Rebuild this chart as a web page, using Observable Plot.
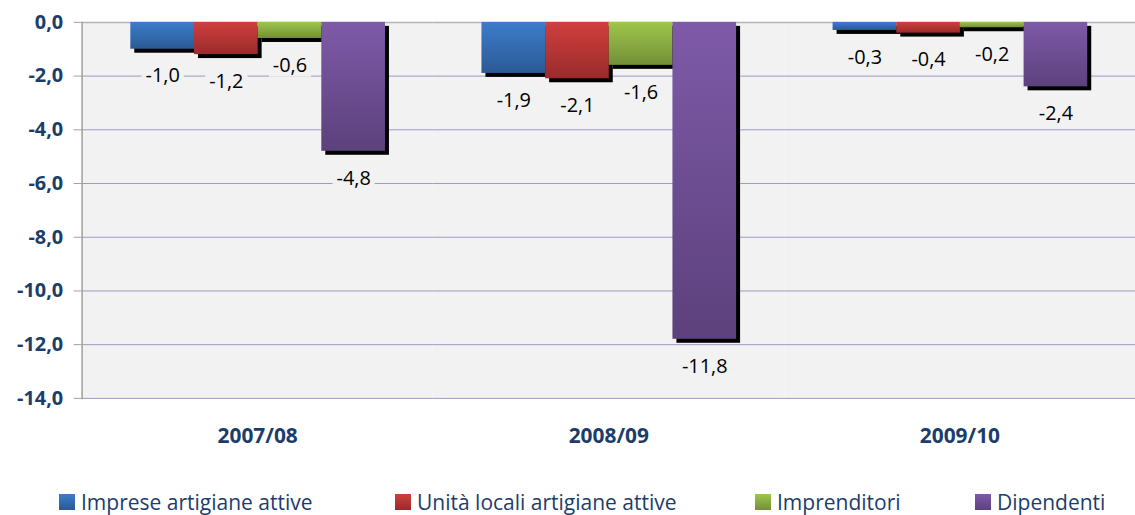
<!DOCTYPE html>
<html><head><meta charset="utf-8">
<script src="https://cdn.jsdelivr.net/npm/d3@7"></script>
<script src="https://cdn.jsdelivr.net/npm/@observablehq/plot@0.6"></script>
<style>
html,body{margin:0;padding:0;background:#fff;}
body{width:1135px;height:515px;overflow:hidden;font-family:"Open Sans",sans-serif;}
#chart svg{display:block;overflow:visible}
.legend{position:relative;height:45px;}
.item{position:absolute;top:23px;height:22px;line-height:22px;display:flex;align-items:center;font-size:21px;color:#1c3d6a;white-space:nowrap;}
.sw{width:16px;height:16px;margin-right:6px;flex:none}
.item:nth-child(1){left:59px}
.item:nth-child(2){left:395px}
.item:nth-child(3){left:755px}
.item:nth-child(4){left:975px}
</style>
</head><body>
<div id="chart"></div>
<div class="legend" id="legend"></div>
<script>
const years = ["2007/08", "2008/09", "2009/10"];
const series = ["Imprese artigiane attive", "Unità locali artigiane attive", "Imprenditori", "Dipendenti"];
const imprese = [-1.0, -1.9, -0.3];
const unita = [-1.2, -2.1, -0.4];
const imprenditori = [-0.6, -1.6, -0.2];
const dipendenti = [-4.8, -11.8, -2.4];
const yTicks = [0, -2, -4, -6, -8, -10, -12, -14];

const gradTop = ["#3d7ccb", "#d03f3d", "#9ec64c", "#7e5aa8"];
const gradBottom = ["#2b5a94", "#982c2b", "#738f38", "#5c417c"];

const valuesBySeries = [imprese, unita, imprenditori, dipendenti];
const data = [];
years.forEach((yr, i) => series.forEach((s, j) => data.push({year: yr, series: s, value: valuesBySeries[j][i]})));

const fmt = v => v.toFixed(1).replace(".", ",");
const gradIds = series.map((s, j) => `grad${j}`);

const chart = Plot.plot({
  width: 1141,
  height: 470,
  marginLeft: 81,
  marginRight: 0,
  marginTop: 22,
  marginBottom: 70,
  style: {fontFamily: "'Open Sans', sans-serif", color: "#1c3d6a", background: "transparent"},
  fx: {domain: years, padding: 0, label: null},
  x: {domain: series, paddingInner: 0, paddingOuter: 0.736, axis: null},
  y: {domain: [-14, 0], label: null},
  color: {domain: series, range: gradIds.map(id => `url(#${id})`), legend: false},
  marks: [
    Plot.frame({fill: "#f2f2f2", stroke: "none"}),
    Plot.gridY(yTicks.filter(t => t < 0), {stroke: "#9c98c4", strokeOpacity: 1, strokeWidth: 1}),
    Plot.ruleY([0], {stroke: "#b4b4b4", strokeWidth: 1.5}),
    Plot.frame({anchor: "left", stroke: "#a0a0a0", strokeWidth: 1.5, facetAnchor: "left"}),
    Plot.barY(data, {fx: "year", x: "series", y: "value", fill: "black", dx: 4, dy: 4}),
    Plot.barY(data, {fx: "year", x: "series", y: "value", fill: "series"}),
    Plot.text(data, {fx: "year", x: "series", y: "value", text: d => fmt(d.value), dy: 27, fill: "#000", fontSize: 20, className: "vlabel"}),
    Plot.axisY({ticks: yTicks, tickFormat: fmt, tickSize: 8, tickPadding: 11, fontSize: 20, fontWeight: "bold", stroke: "#a0a0a0", fill: "#1c3d6a", label: null}),
    Plot.axisFx({anchor: "bottom", tickSize: 0, tickPadding: 30, fontSize: 21, fontWeight: "bold", fill: "#1c3d6a", label: null})
  ]
});

// gradient definitions
const ns = "http://www.w3.org/2000/svg";
const defs = document.createElementNS(ns, "defs");
gradIds.forEach((id, j) => {
  const lg = document.createElementNS(ns, "linearGradient");
  lg.setAttribute("id", id);
  lg.setAttribute("x1", "0"); lg.setAttribute("y1", "0");
  lg.setAttribute("x2", "0"); lg.setAttribute("y2", "1");
  [[0, gradTop[j]], [1, gradBottom[j]]].forEach(([o, c]) => {
    const st = document.createElementNS(ns, "stop");
    st.setAttribute("offset", o);
    st.setAttribute("stop-color", c);
    lg.appendChild(st);
  });
  defs.appendChild(lg);
});
chart.insertBefore(defs, chart.firstChild);
document.getElementById("chart").appendChild(chart);

// label background boxes, measured from the rendered text
chart.querySelectorAll(".vlabel text").forEach(t => {
  const cr = t.getBoundingClientRect();
  const parent = t.parentNode;
  const inv = parent.getScreenCTM().inverse();
  const p0 = new DOMPoint(cr.left, cr.top).matrixTransform(inv);
  const p1 = new DOMPoint(cr.right, cr.bottom).matrixTransform(inv);
  const r = document.createElementNS(ns, "rect");
  r.setAttribute("x", p0.x - 4);
  r.setAttribute("y", p0.y + 1);
  r.setAttribute("width", p1.x - p0.x + 8);
  r.setAttribute("height", p1.y - p0.y - 2);
  r.setAttribute("fill", "#f2f2f2");
  parent.insertBefore(r, t);
});

// legend
const legend = document.getElementById("legend");
series.forEach((s, j) => {
  const it = document.createElement("div");
  it.className = "item";
  const sw = document.createElement("span");
  sw.className = "sw";
  sw.style.background = `linear-gradient(${gradTop[j]}, ${gradBottom[j]})`;
  it.appendChild(sw);
  it.appendChild(document.createTextNode(s));
  legend.appendChild(it);
});
</script>
</body></html>
